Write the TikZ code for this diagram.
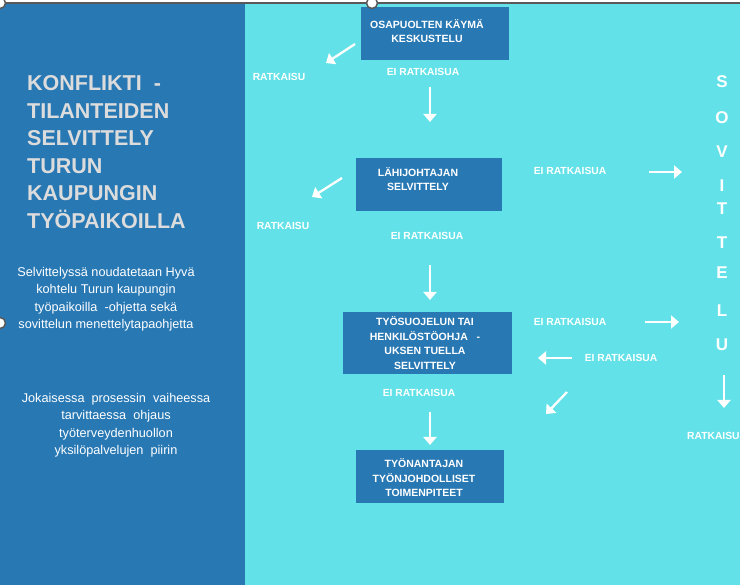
\documentclass[tikz,border=0pt]{standalone}
\usepackage{fontspec}
\setmainfont{Liberation Sans}
\usepackage{xcolor}
\usetikzlibrary{arrows.meta}

\definecolor{panelblue}{RGB}{40,120,180}
\definecolor{panelcyan}{RGB}{98,226,232}
\definecolor{titlegray}{RGB}{220,220,220}

\begin{document}
\begin{tikzpicture}[x=1pt, y=-1pt, >={Triangle[width=13pt,length=8pt]},
  box/.style={fill=panelblue, inner sep=0pt},
  boxtext/.style={text=white, font=\bfseries\fontsize{10.5}{14.5}\selectfont, align=center, inner sep=0pt},
  lbl/.style={text=white, font=\bfseries\fontsize{10.3}{11}\selectfont, inner sep=0pt},
  sov/.style={text=white, font=\bfseries\fontsize{17}{17}\selectfont, inner sep=0pt},
  bodytext/.style={text=white, font=\fontsize{12.7}{17.5}\selectfont, align=center, inner sep=0pt},
  arr/.style={->, white, line width=2.3pt},
  handle/.style={draw=gray!70!black, fill=white, line width=1.5pt}
]
  \useasboundingbox (0,0) rectangle (740,585);
  \clip (0,0) rectangle (740,585);
  % panels
  \fill[white] (0,0) rectangle (740,585);
  \fill[panelblue] (0,3) rectangle (245,585);
  \fill[panelcyan] (245,3) rectangle (740,585);
  \draw[gray!70!black, line width=1.2pt] (0,3) -- (740,3);

  % left side texts
  \node[text=titlegray, font=\bfseries\fontsize{21.5}{27.5}\selectfont, align=left,
        inner sep=0pt, anchor=west] (title) at (27,152)
    {KONFLIKTI\ \ -\\TILANTEIDEN\\SELVITTELY\\TURUN\\KAUPUNGIN\\TYÖPAIKOILLA};
  \node[bodytext] (ohje) at (106,299)
    {Selvittelyssä noudatetaan Hyvä\\kohtelu Turun kaupungin\\työpaikoilla\ \ -ohjetta sekä\\sovittelun menettelytapaohjetta};
  \node[bodytext] (ohjaus) at (116,425)
    {Jokaisessa\ \ prosessin\ \ vaiheessa\\tarvittaessa\ \ ohjaus\\työterveydenhuollon\\yksilöpalvelujen\ \ piirin};

  % boxes
  \node[box, minimum width=148pt, minimum height=53pt] (keskustelu) at (435,33.5) {};
  \node[boxtext] (keskustelut) at (427,31) {OSAPUOLTEN KÄYMÄ\\KESKUSTELU};
  \node[box, minimum width=146pt, minimum height=53pt] (lahijohto) at (429,184.5) {};
  \node[boxtext] (lahijohtot) at (418,179) {LÄHIJOHTAJAN\\SELVITTELY};
  \node[box, minimum width=169pt, minimum height=62pt] (tyosuojelu) at (427.5,343) {};
  \node[boxtext] (tyosuojelut) at (425,343) {TYÖSUOJELUN TAI\\HENKILÖSTÖOHJA\ \ \ -\\UKSEN TUELLA\\SELVITTELY};
  \node[box, minimum width=148pt, minimum height=53pt] (tyonantaja) at (430,476.5) {};
  \node[boxtext] (tyonantajat) at (424,478) {TYÖNANTAJAN\\TYÖNJOHDOLLISET\\TOIMENPITEET};

  % labels
  \node[lbl] (ratk1) at (279,77) {RATKAISU};
  \node[lbl] (eiratk1) at (423,72) {EI RATKAISUA};
  \node[lbl] (ratk2) at (283,226) {RATKAISU};
  \node[lbl] (eiratk2) at (427,236) {EI RATKAISUA};
  \node[lbl] (eiratk3) at (570,171) {EI RATKAISUA};
  \node[lbl] (eiratk4) at (570,322) {EI RATKAISUA};
  \node[lbl] (eiratk5) at (621,358) {EI RATKAISUA};
  \node[lbl] (eiratk6) at (419,393) {EI RATKAISUA};
  \node[lbl, anchor=west] (ratk3) at (687,436) {RATKAISU};

  % sovittelu
  \foreach \ch/\yy in {S/82,O/118,V/152,I/186,T/209,T/243,E/273,L/311,U/345}
    \node[sov] (sov\yy) at (722,\yy) {\ch};

  % arrows
  \coordinate (a1s) at (355,44);  \coordinate (a1e) at (326,63);
  \coordinate (a2s) at (430,87);  \coordinate (a2e) at (430,122);
  \coordinate (a3s) at (342,178); \coordinate (a3e) at (312,197);
  \coordinate (a4s) at (430,265); \coordinate (a4e) at (430,300);
  \coordinate (a5s) at (649,172); \coordinate (a5e) at (682,172);
  \coordinate (a6s) at (645,322); \coordinate (a6e) at (679,322);
  \coordinate (a7s) at (572,358); \coordinate (a7e) at (538,358);
  \coordinate (a8s) at (567,392); \coordinate (a8e) at (546,414);
  \coordinate (a9s) at (724,375); \coordinate (a9e) at (724,408);
  \coordinate (a10s) at (430,412); \coordinate (a10e) at (430,445);
  \foreach \n in {1,...,10}
    \draw[arr] (a\n s) -- (a\n e);

  % selection handles
  \draw[handle] (0,3) circle (5.5);
  \draw[handle] (372,3) circle (5.5);
  \draw[handle] (0,323) circle (5.5);
\end{tikzpicture}
\end{document}
